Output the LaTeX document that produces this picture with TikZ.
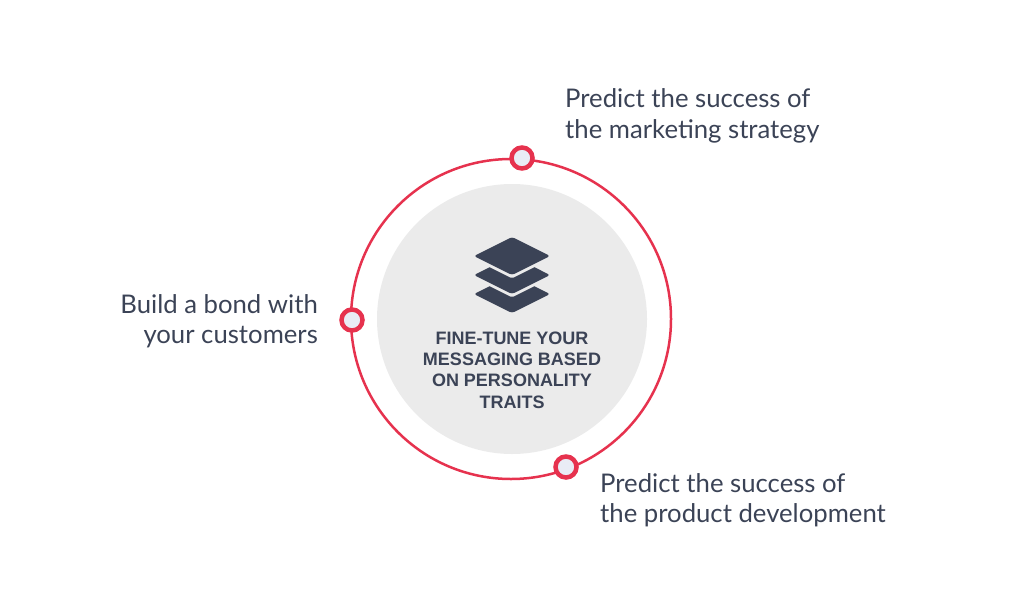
\documentclass[tikz,border=0pt]{standalone}
\usepackage{fontspec}
\setmainfont{Lato}
\newfontfamily\hfont{Liberation Sans}
\definecolor{txt}{HTML}{3B4356}
\definecolor{ring}{HTML}{E6324E}
\definecolor{disc}{HTML}{EBEBEB}
\definecolor{dotfill}{HTML}{E9ECF5}
\begin{document}
\begin{tikzpicture}[x=1pt,y=-1pt,
  dotc/.style={circle,draw=ring,line width=4.5pt,fill=dotfill,minimum size=21pt,inner sep=0pt},
  lbl/.style={text=txt,font=\fontsize{25.7}{30.5}\selectfont,inner sep=0pt,align=left},
  layer/.style={fill=txt,rounded corners=2.5pt}]
\useasboundingbox (0,0) rectangle (1024,597);
\node[circle,fill=disc,minimum size=270pt,inner sep=0pt] (bg) at (512,319) {};
\node[circle,draw=ring,line width=2.5pt,minimum size=320pt,inner sep=0pt] (ringc) at (511,319) {};
% layers icon
\foreach \yy in {294,275} {
  \fill[layer] (474,\yy) -- (512,\yy-19) -- (550,\yy) -- (512,\yy+19) -- cycle;
  \filldraw[fill=disc,draw=disc,line width=6pt,line join=round] (474,\yy-19) -- (512,\yy-38) -- (550,\yy-19) -- (512,\yy) -- cycle;
}
\fill[layer] (474,256) -- (512,237) -- (550,256) -- (512,275) -- cycle;
\node[text=txt,font=\hfont\bfseries\fontsize{18}{21.3}\selectfont,align=center,inner sep=0pt] (main) at (512,370) {FINE-TUNE YOUR\\MESSAGING BASED\\ON PERSONALITY\\TRAITS};
\node[dotc] (d1) at (522,158) {};
\node[dotc] (d2) at (352,320) {};
\node[dotc] (d3) at (566,467) {};
\node[lbl,anchor=west] (l1) at (565,116) {Predict the success of\\the marketing strategy};
\node[lbl,anchor=east,align=right] (l2) at (318,321) {Build a bond with\\your customers};
\node[lbl,anchor=west] (l3) at (600,500) {Predict the success of\\the product development};
\end{tikzpicture}
\end{document}
